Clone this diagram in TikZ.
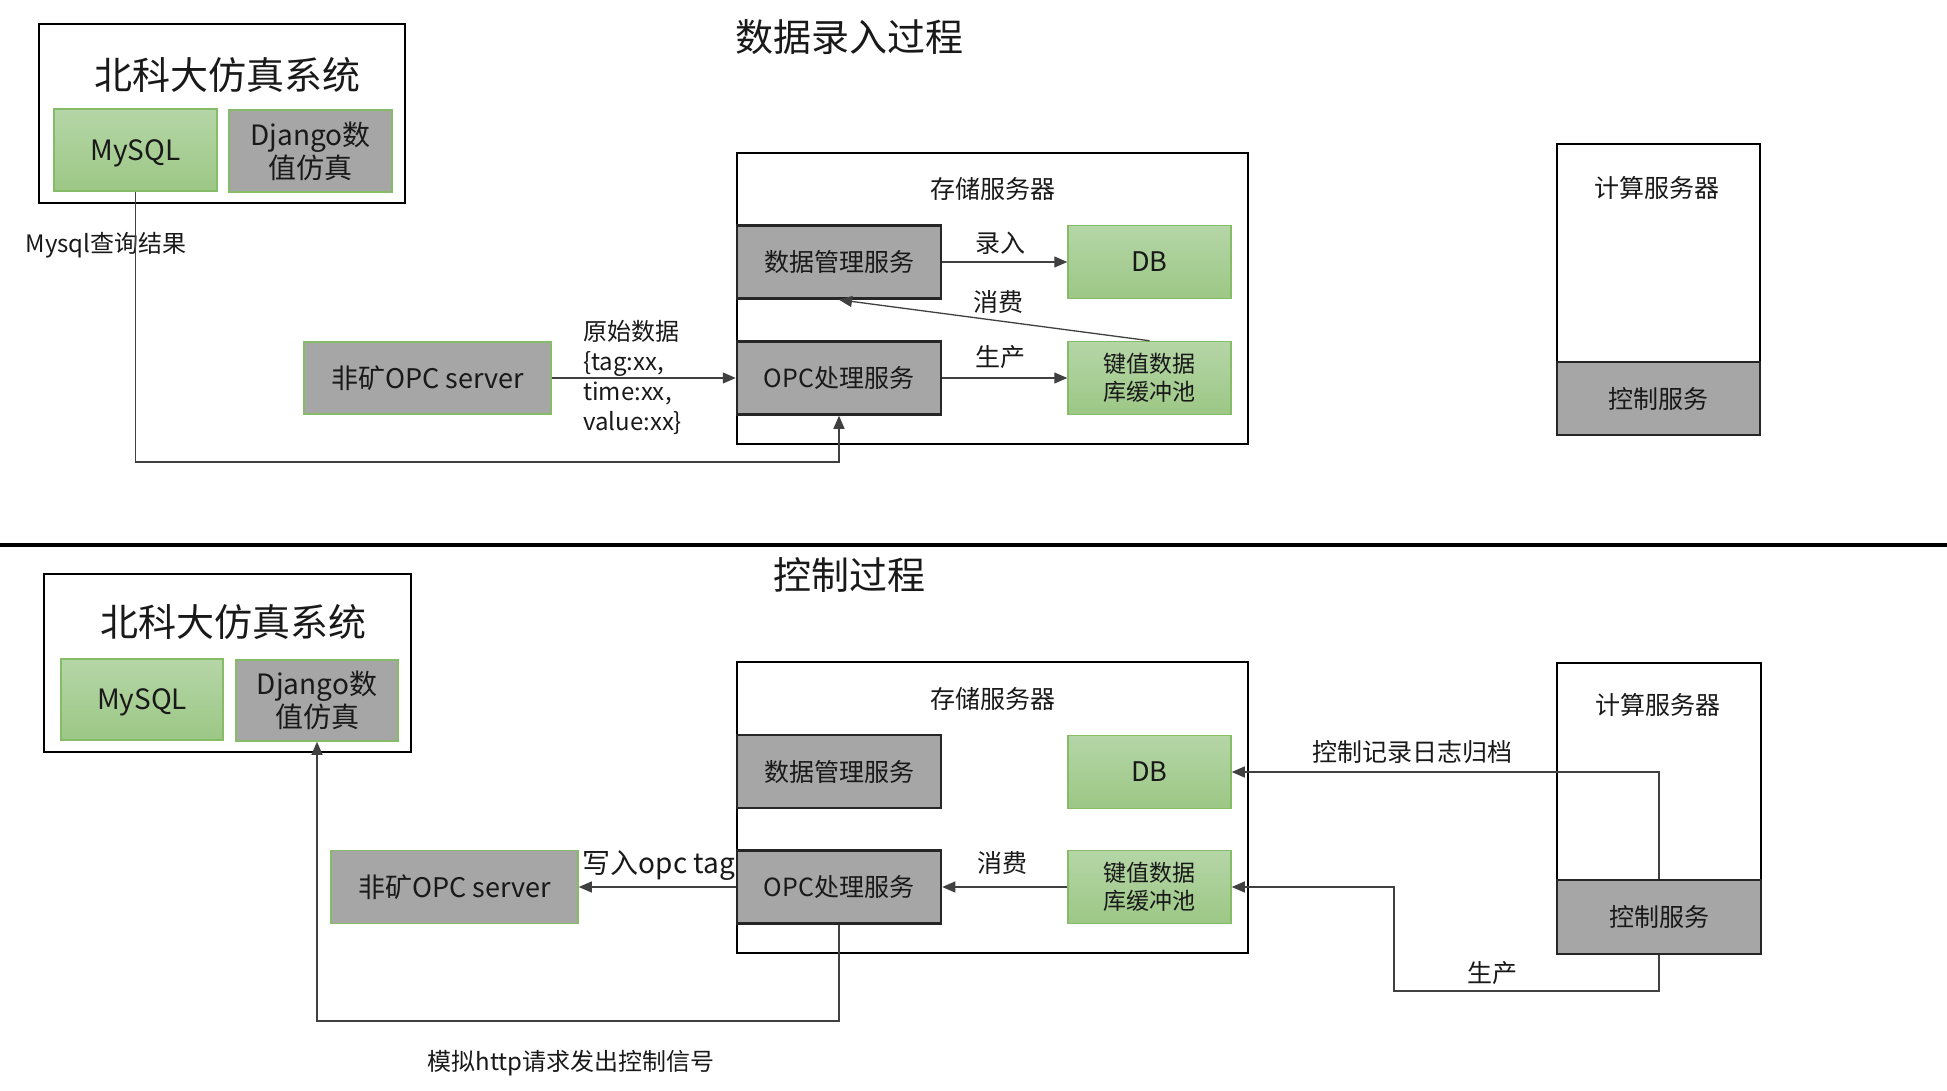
\documentclass[tikz,border=0pt]{standalone}
\usepackage{fontspec}
\setmainfont{Noto Sans CJK SC}
\usetikzlibrary{arrows.meta}
\definecolor{boxgray}{HTML}{A6A6A6}
\definecolor{boxgreen}{HTML}{86BB68}
\definecolor{greentop}{HTML}{B5D6A7}
\definecolor{greenbot}{HTML}{9CC785}
\definecolor{linegray}{HTML}{404040}
\tikzset{>={Triangle[length=13pt,width=11pt]}}

\begin{document}
\begin{tikzpicture}[x=1pt,y=-1pt]
        % A = 数据录入过程 (top), B = 控制过程 (bottom)
        \tikzstyle{every node}=[inner sep=0pt, text=black!90, font=\fontsize{25}{30}\selectfont]
        \tikzstyle{every edge}=[draw=linegray, ->, line width=1.3pt]
        \tikzstyle{frame}=[draw=black, line width=2pt]
        \tikzstyle{svc}=[draw=black!85, line width=2.5pt, fill=boxgray, minimum width=204pt, minimum height=73pt]
        \tikzstyle{ext}=[draw=boxgreen, line width=1.5pt, fill=boxgray, align=center]
        \tikzstyle{store}=[draw=boxgreen, line width=1.5pt, top color=greentop, bottom color=greenbot, minimum width=163pt, minimum height=73pt, align=center]
        \tikzstyle{wire}=[draw=linegray, line width=1.3pt]
        \tikzstyle{big}=[font=\fontsize{38}{44}\selectfont]
        \useasboundingbox (0,0) rectangle (1947,1091);

        \node[big] (titleA) at (849,37) {数据录入过程};
        \node[frame, minimum width=366pt, minimum height=179pt] (sysA) at (222,113.5) {};
        \node[big] (sysAt) at (227,75) {北科大仿真系统};
        \node[store, minimum height=82pt, text depth=0pt, font=\fontsize{28}{33}\selectfont] (mysqlA) at (135.5,150) {MySQL};
        \node[ext, minimum width=163pt, minimum height=82pt, font=\fontsize{28}{33}\selectfont] (djangoA) at (310.5,151) {Django数\\值仿真};
        \node[ext, minimum width=247pt, minimum height=72pt, font=\fontsize{27}{32}\selectfont] (opcsrvA) at (427.5,378) {非矿OPC server};
        \node[frame, minimum width=511pt, minimum height=291pt] (storeA) at (992.5,298.5) {};
        \node (storeAt) at (993,189) {存储服务器};
        \node[svc] (dmsA) at (839,262) {数据管理服务};
        \node[store, font=\fontsize{27}{32}\selectfont] (dbA) at (1149.5,262) {DB};
        \node[svc] (opcA) at (839,378) {OPC处理服务};
        \node[store, font=\fontsize{23}{28}\selectfont] (kvA) at (1149.5,378) {键值数据\\库缓冲池};
        \node[frame, minimum width=203pt, minimum height=291pt] (compA) at (1658.5,289.5) {};
        \node (compAt) at (1657,188) {计算服务器};
        \node[svc, minimum width=203pt] (ctrlA) at (1658.5,398.5) {控制服务};

        \node[font=\fontsize{24}{28}\selectfont] (lblmysql) at (106,245) {Mysql查询结果};
        \node[anchor=west, align=left, font=\fontsize{24}{30}\selectfont] (lblraw) at (583,377) {原始数据\\\{tag:xx,\\time:xx,\\value:xx\}};
        \node (lblin) at (1000,243) {录入};
        \node (lblconA) at (998,302) {消费};
        \node (lblprodA) at (1000,357) {生产};

        \draw (opcsrvA.east) edge (opcA.west);
        \draw (dmsA.east) edge (dbA.west);
        \draw (kvA.north) edge (dmsA.south);
        \draw (opcA.east) edge (kvA.west);
        \coordinate (mysqlbend) at (0,462);
        \draw[wire, ->] (mysqlA.south) -- (mysqlA.south |- mysqlbend) -| (opcA.south);

        \draw[line width=4pt] (0,545) -- (1947,545);

        \node[big] (titleB) at (849,575) {控制过程};
        \node[frame, minimum width=367pt, minimum height=178pt] (sysB) at (227.5,663) {};
        \node[big] (sysBt) at (233,622) {北科大仿真系统};
        \node[store, minimum width=162pt, minimum height=81pt, text depth=0pt, font=\fontsize{28}{33}\selectfont] (mysqlB) at (142,699.5) {MySQL};
        \node[ext, minimum width=162pt, minimum height=81pt, font=\fontsize{28}{33}\selectfont] (djangoB) at (317,700.5) {Django数\\值仿真};
        \node[ext, minimum width=247pt, minimum height=73pt, font=\fontsize{27}{32}\selectfont] (opcsrvB) at (454.5,887) {非矿OPC server};
        \node[frame, minimum width=511pt, minimum height=291pt] (storeB) at (992.5,807.5) {};
        \node (storeBt) at (993,699) {存储服务器};
        \node[svc] (dmsB) at (839,771.5) {数据管理服务};
        \node[store, font=\fontsize{27}{32}\selectfont] (dbB) at (1149.5,772) {DB};
        \node[svc] (opcB) at (839,887) {OPC处理服务};
        \node[store, font=\fontsize{23}{28}\selectfont] (kvB) at (1149.5,887) {键值数据\\库缓冲池};
        \node[frame, minimum width=204pt, minimum height=291pt] (compB) at (1659,808.5) {};
        \node (compBt) at (1658,705) {计算服务器};
        \node[svc, minimum width=204pt, minimum height=74pt] (ctrlB) at (1659,917) {控制服务};

        \node[font=\fontsize{28}{32}\selectfont] (lblopc) at (659,866) {写入opc tag};
        \node (lblconB) at (1002,863) {消费};
        \node (lbllog) at (1412,752) {控制记录日志归档};
        \node (lblprodB) at (1492,973) {生产};
        \node[font=\fontsize{24}{28}\selectfont] (lblhttp) at (571,1063) {模拟http请求发出控制信号};

        \draw (opcB.west) edge (opcsrvB.east);
        \draw (kvB.west) edge (opcB.east);
        \draw[wire, ->] (ctrlB.north) |- (dbB.east);
        \coordinate (prodbend) at (1394,991);
        \draw[wire, ->] (ctrlB.south) |- (prodbend) |- (kvB.east);
        \coordinate (httpbend) at (0,1021);
        \draw[wire, ->] (opcB.south) -- (opcB.south |- httpbend) -| (djangoB.south);
\end{tikzpicture}
\end{document}
